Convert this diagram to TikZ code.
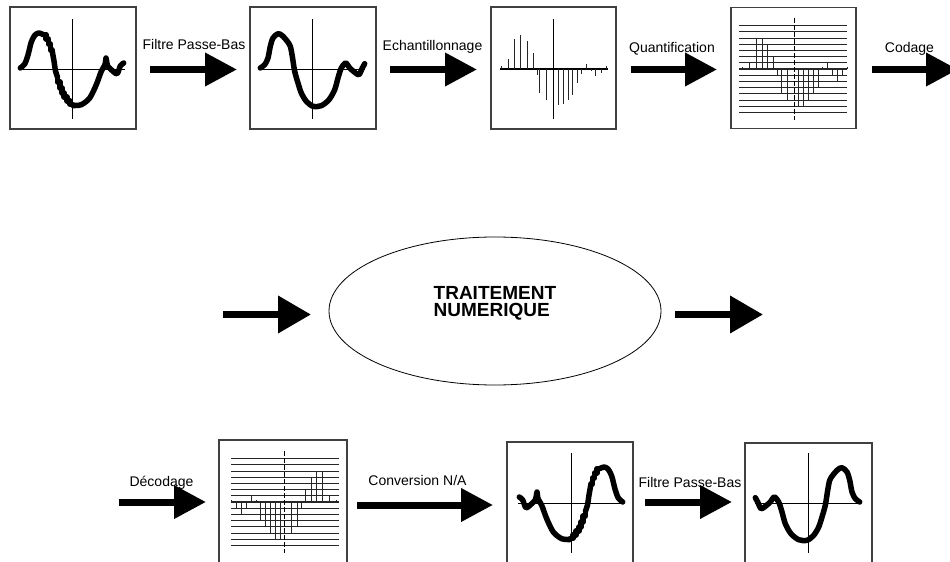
\documentclass[tikz,border=0pt]{standalone}
\usepackage{fontspec}
\setmainfont{Liberation Sans}
\usetikzlibrary{arrows.meta,shapes.geometric}

\tikzset{
  boxframe/.style={draw=black!75, line width=1.1bp, rectangle, inner sep=0pt},
  axisline/.style={draw=black, line width=0.9bp},
  dashaxis/.style={draw=black, line width=1bp, dash pattern=on 5bp off 2bp},
  signal/.style={draw=black, line width=5.5bp, line join=round, line cap=round},
  sampleline/.style={draw=black!85, line width=1bp},
  qline/.style={draw=black!85, line width=0.9bp},
  bigarrow/.style={draw=black, line width=7bp, -{Triangle[length=32bp,width=32bp]}},
  midarrow/.style={draw=black, line width=7bp, -{Triangle[length=33bp,width=36bp]}},
  lbl/.style={font=\fontsize{14bp}{16bp}\selectfont, anchor=base, inner sep=0pt},
  % analogue signal after low-pass filtering
  pics/smoothwave/.style={code={
    \draw[axisline] (0,-50) -- (0,50) (-53,0) -- (53,0);
    \draw[signal] plot[smooth] coordinates {(-51.7,-1) (-47.3,-4.3) (-44,-11)
      (-41.7,-22.7) (-39,-31) (-34,-35.3) (-29.7,-33.3) (-24.7,-27.7) (-21.7,-22.7)
      (-19.7,-12.7) (-17.3,2.3) (-14,14) (-10.7,24) (-5.7,32.3) (1,37.3) (9.3,36.7)
      (17,30.7) (22.7,20.7) (26,9) (29.3,-1) (33.7,-6) (37.7,-1) (42.7,3.3) (47,5.7)
      (50.3,-1) (52.7,-5.3)};
  }},
  % raw signal with staircase artefacts
  pics/steppedwave/.style={code={
    \draw[axisline] (0,-50) -- (0,50) (-53,0) -- (53,0);
    \draw[signal] plot[smooth] coordinates {(-51.7,-1) (-47.3,-5) (-44,-14)
      (-40.7,-27) (-37,-34) (-33,-36) (-29,-34.5)};
    \draw[signal] (-29,-34.5) -- (-26,-34.5) -- (-26,-30) -- (-23.5,-30) -- (-23.5,-25)
      -- (-21.5,-25) -- (-21.5,-19) -- (-20,-19);
    \draw[signal] plot[smooth] coordinates {(-20,-19) (-18,-8) (-16.5,2) (-14.5,8)};
    \draw[signal] (-14.5,8) -- (-14.5,13) -- (-12,13) -- (-12,19) -- (-10,19) -- (-10,24)
      -- (-8,24) -- (-8,28) -- (-5,28) -- (-5,32) -- (-2,32) -- (-2,35.5) -- (1,35.5);
    \draw[signal] plot[smooth] coordinates {(1,36.5) (9.3,35.7) (17.7,29) (24.3,15.7)
      (29.3,2.3) (33,-4)};
    \draw[signal] (33,-4) -- (34,-11) -- (35.5,-3);
    \draw[signal] plot[smooth] coordinates {(35.5,-3) (39.3,0.7) (45,4.7) (48.3,-3)
      (51.7,-6)};
  }},
  % sampled signal
  pics/samples/.style={code={
    \draw[axisline] (0,-50) -- (0,50);
    \draw[axisline, line width=1.2bp] (-53,0) -- (55,0);
    \foreach \x/\h in {-51.7/2.7,-45/10,-38.3/30,-32.3/34.3,-26/27.7,-20/16,-16/-5.7,
      -13.3/-24,-6.7/-30.7,5/-35.7,10/-34.7,15/-30.7,19.3/-25.7,24.3/-14,28.3/-4.7,
      33.3/5,38.3/-2.3,42.3/-6.7,48.3/-4,53.3/2.7}
      \draw[sampleline] (\x,0) -- (\x,{-\h});
  }},
  % quantised signal on its grid of levels
  pics/quantised/.style={code={
    \foreach \k in {1,...,7} {
      \draw[qline] (-55,{6.2*\k}) -- (53,{6.2*\k});
      \draw[qline] (-55,{-6.2*\k}) -- (53,{-6.2*\k});
    }
    \draw[qline, line width=1.3bp] (-55,0) -- (53,0);
    \draw[dashaxis] (0,-51) -- (0,51);
    \foreach \x/\l in {-52/0.3,-45/1,-38/5,-32/5,-27/4,-21/2,-17/-1,-13/-4,-7/-5,
      4/-6,9/-6,14/-5,19/-4,24/-3,28/0.3,33/1,38/-1,43/-2,48/-1,53/0.3}
      \draw[qline] (\x,0) -- (\x,{-6.2*\l});
  }},
}

\begin{document}
\begin{tikzpicture}[x=1bp,y=-1bp]
\useasboundingbox (0,0) rectangle (950,562);
\fill[white] (0,0) rectangle (950,562);

% ---- top row: acquisition chain ----
\node[boxframe, minimum width=126bp, minimum height=122bp] (b1) at (73,68) {};
\node[boxframe, minimum width=126bp, minimum height=122bp] (b2) at (313,68) {};
\node[boxframe, minimum width=125bp, minimum height=122bp] (b3) at (553.5,68) {};
\node[boxframe, minimum width=125bp, minimum height=121bp] (b4) at (793.5,68) {};

\pic at (72,69) {steppedwave};
\pic at (312,69) {smoothwave};
\pic at (553,69) {samples};
\pic at (794,69) {quantised};

\coordinate (a1s) at (150,69.5); \coordinate (a1e) at (237,69.5);
\coordinate (a2s) at (390,69.5); \coordinate (a2e) at (477,69.5);
\coordinate (a3s) at (631,69.5); \coordinate (a3e) at (717,69.5);
\coordinate (a4s) at (872,69.5); \coordinate (a4e) at (958,69.5);
\draw[bigarrow] (a1s) -- (a1e);
\draw[bigarrow] (a2s) -- (a2e);
\draw[bigarrow] (a3s) -- (a3e);
\draw[bigarrow] (a4s) -- (a4e);

\node[lbl] (l1) at (194,49.5) {Filtre Passe-Bas};
\node[lbl] (l2) at (432.5,51) {Echantillonnage};
\node[lbl] (l3) at (672,53) {Quantification};
\node[lbl] (l4) at (909.5,53) {Codage};

% ---- middle row: digital processing ----
\node[draw=black, line width=0.8bp, ellipse, minimum width=332bp, minimum height=148bp,
  inner sep=0pt] (proc) at (495,311) {};
\node[font=\fontsize{19bp}{16.5bp}\selectfont\bfseries, align=left, inner sep=0pt,
  anchor=north west] (proctext) at (433.5,286.3) {TRAITEMENT\\NUMERIQUE};

\coordinate (m1s) at (223,314.5); \coordinate (m1e) at (311,314.5);
\coordinate (m2s) at (675,314.5); \coordinate (m2e) at (763,314.5);
\draw[midarrow] (m1s) -- (m1e);
\draw[midarrow] (m2s) -- (m2e);

% ---- bottom row: restitution chain ----
\node[boxframe, minimum width=128bp, minimum height=124bp] (b5) at (283,502) {};
\node[boxframe, minimum width=126bp, minimum height=124bp] (b6) at (570,504) {};
\node[boxframe, minimum width=127bp, minimum height=124bp] (b7) at (808.5,505) {};

\pic[xscale=-1] at (284,502) {quantised};
\pic[xscale=-1] at (571,503) {steppedwave};
\pic[xscale=-1] at (808,503) {smoothwave};

\coordinate (d1s) at (119,502); \coordinate (d1e) at (206,502);
\coordinate (d2s) at (357,505); \coordinate (d2e) at (493,505);
\coordinate (d3s) at (645,502); \coordinate (d3e) at (732,502);
\draw[bigarrow] (d1s) -- (d1e);
\draw[bigarrow] (d2s) -- (d2e);
\draw[bigarrow] (d3s) -- (d3e);

\node[lbl] (l5) at (161.5,486) {Décodage};
\node[lbl] (l6) at (417.5,485) {Conversion N/A};
\node[lbl] (l7) at (690,487) {Filtre Passe-Bas};
\end{tikzpicture}
\end{document}
